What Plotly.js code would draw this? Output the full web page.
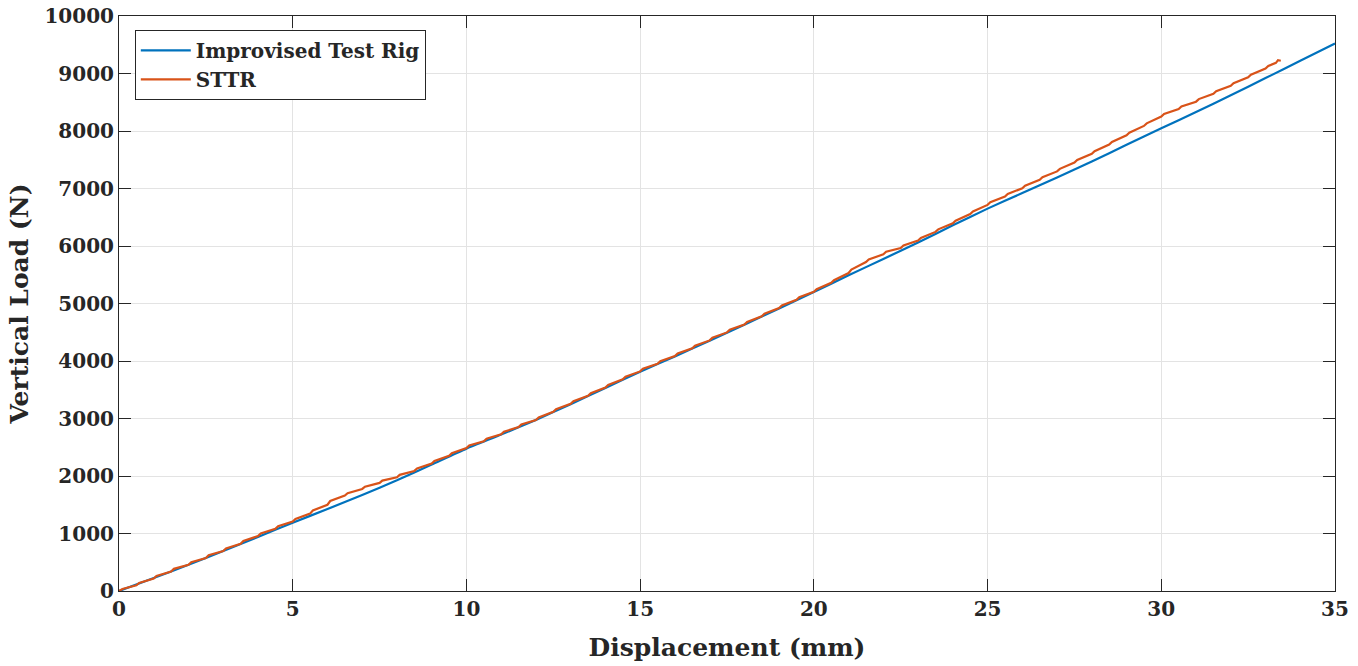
<!DOCTYPE html>
<html>
<head>
<meta charset="utf-8">
<script src="https://cdn.plot.ly/plotly-3.0.1.min.js"></script>
<style>
  html, body { margin: 0; padding: 0; background: #ffffff; }
  #chart { width: 1358px; height: 666px; }
</style>
</head>
<body>
<div id="chart"></div>
<script>
// Improvised test rig: load vs displacement (mm, N)
const rigDisp = [0, 1, 2, 3, 4, 5, 6, 7, 8, 9, 10, 11, 12, 13, 14, 15, 16, 17, 18,
  19, 20, 21, 22, 23, 24, 25, 26, 27, 28, 29, 30, 31, 32, 33, 34, 35];
const rigLoad = [0, 225, 455, 695, 940, 1188, 1425, 1670, 1925, 2200, 2475, 2720,
  2975, 3250, 3530, 3814, 4080, 4353, 4630, 4915, 5200, 5490, 5775, 6060, 6360,
  6650, 6920, 7190, 7470, 7760, 8046, 8330, 8620, 8920, 9220, 9520];

// STTR measurement: stepped load trace
const sttrDisp = [0, 0.1, 0.5, 0.58, 1.0, 1.08, 1.5, 1.58, 2.0, 2.08, 2.5, 2.58,
  3.0, 3.08, 3.5, 3.58, 4.0, 4.08, 4.5, 4.58, 5.0, 5.08, 5.5, 5.58, 6.0, 6.08,
  6.5, 6.58, 7.0, 7.08, 7.5, 7.58, 8.0, 8.08, 8.5, 8.58, 9.0, 9.08, 9.5, 9.58,
  10.0, 10.08, 10.5, 10.58, 11.0, 11.08, 11.5, 11.58, 12.0, 12.08, 12.5, 12.58,
  13.0, 13.08, 13.5, 13.58, 14.0, 14.08, 14.5, 14.58, 15.0, 15.08, 15.5, 15.58,
  16.0, 16.08, 16.5, 16.58, 17.0, 17.08, 17.5, 17.58, 18.0, 18.08, 18.5, 18.58,
  19.0, 19.08, 19.5, 19.58, 20.0, 20.08, 20.5, 20.58, 21.0, 21.08, 21.5, 21.58,
  22.0, 22.08, 22.5, 22.58, 23.0, 23.08, 23.5, 23.58, 24.0, 24.08, 24.5, 24.58,
  25.0, 25.08, 25.5, 25.58, 26.0, 26.08, 26.5, 26.58, 27.0, 27.08, 27.5, 27.58,
  28.0, 28.08, 28.5, 28.58, 29.0, 29.08, 29.5, 29.58, 30.0, 30.08, 30.5, 30.58,
  31.0, 31.08, 31.5, 31.58, 32.0, 32.08, 32.5, 32.58, 33.0, 33.08, 33.3, 33.36,
  33.44];
const sttrLoad = [0, 35, 100, 140, 215, 262, 340, 385, 455, 500, 575, 622,
  695, 740, 822, 870, 955, 1000, 1080, 1125, 1208, 1255, 1345, 1400, 1500, 1565,
  1660, 1700, 1775, 1815, 1880, 1920, 1978, 2020, 2088, 2130, 2215, 2260, 2350, 2395,
  2485, 2530, 2605, 2650, 2725, 2770, 2850, 2895, 2975, 3020, 3115, 3160,
  3255, 3300, 3395, 3440, 3540, 3585, 3682, 3727, 3819, 3864, 3952, 3997,
  4085, 4130, 4221, 4266, 4358, 4403, 4497, 4542, 4635, 4680, 4777, 4822,
  4920, 4965, 5063, 5108, 5205, 5250, 5360, 5405, 5530, 5590, 5720, 5765,
  5855, 5900, 5965, 6010, 6095, 6140, 6245, 6290, 6395, 6440, 6555, 6600,
  6715, 6760, 6860, 6905, 7005, 7050, 7151, 7196, 7297, 7342, 7451, 7496,
  7605, 7650, 7765, 7810, 7925, 7970, 8088, 8133, 8251, 8296, 8380, 8425,
  8510, 8555, 8647, 8692, 8785, 8830, 8935, 8980, 9085, 9130, 9185, 9232,
  9222];

const seriesNames = ['Improvised Test Rig', 'STTR'];
const xTitle = 'Displacement (mm)';
const yTitle = 'Vertical Load (N)';
const xTicks = [0, 5, 10, 15, 20, 25, 30, 35];
const yTicks = [0, 1000, 2000, 3000, 4000, 5000, 6000, 7000, 8000, 9000, 10000];

const axisColor = '#262626';
const labelFont = { family: 'DejaVu Serif', size: 20, color: axisColor, weight: 'bold' };
const titleFont = { family: 'DejaVu Serif', size: 25, color: axisColor, weight: 'bold' };

const traces = [
  {
    x: rigDisp, y: rigLoad, name: seriesNames[0], type: 'scatter', mode: 'lines',
    line: { color: '#0072BD', width: 2.2, shape: 'spline', smoothing: 0.6 }
  },
  {
    x: sttrDisp, y: sttrLoad, name: seriesNames[1], type: 'scatter', mode: 'lines',
    line: { color: '#D95319', width: 2.2 }
  }
];

const axisCommon = {
  showline: true, linecolor: axisColor, linewidth: 1, mirror: 'ticks',
  ticks: 'inside', ticklen: 12, tickwidth: 1, tickcolor: axisColor,
  showgrid: true, gridcolor: '#e3e3e3', gridwidth: 1,
  zeroline: false, tickfont: labelFont
};

const layout = {
  width: 1358, height: 666,
  margin: { l: 119, r: 23, t: 16, b: 75 },
  paper_bgcolor: '#ffffff', plot_bgcolor: '#ffffff',
  showlegend: true,
  legend: {
    x: 0.013, y: 0.976, xanchor: 'left', yanchor: 'top',
    bgcolor: '#ffffff', bordercolor: axisColor, borderwidth: 1,
    font: labelFont, itemwidth: 50
  },
  xaxis: Object.assign({}, axisCommon, {
    range: [0, 35], tickvals: xTicks, ticktext: xTicks.map(String),
    title: { text: xTitle, font: titleFont, standoff: 18 }
  }),
  yaxis: Object.assign({}, axisCommon, {
    range: [0, 10000], tickvals: yTicks, ticktext: yTicks.map(String),
    title: { text: yTitle, font: titleFont, standoff: 8 }
  })
};

Plotly.newPlot('chart', traces, layout, { displayModeBar: false, staticPlot: true });
</script>
</body>
</html>
